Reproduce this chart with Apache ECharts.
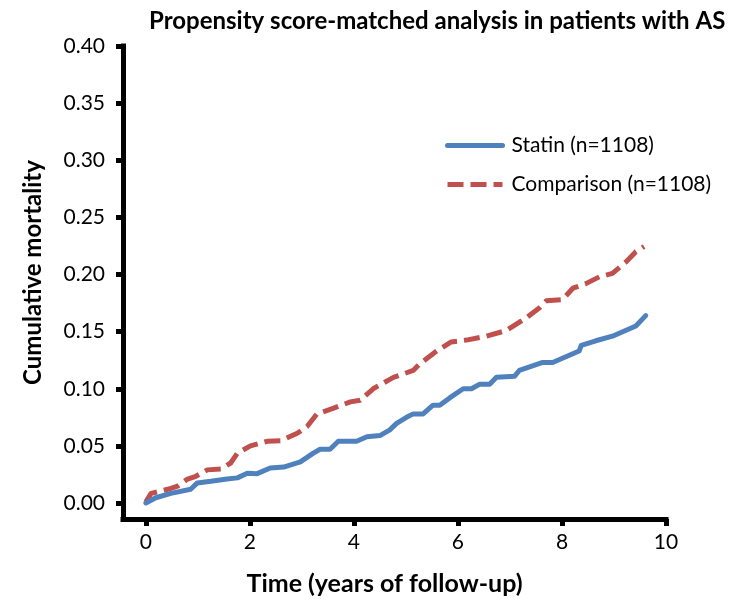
<!DOCTYPE html>
<html>
<head>
<meta charset="utf-8">
<script src="https://cdn.jsdelivr.net/npm/echarts@6/dist/echarts.min.js"></script>
<style>html,body{margin:0;padding:0;background:#fff;}#c{width:744px;height:601px;}</style>
</head>
<body>
<div id="c"></div>
<script>
const titleText = 'Propensity score-matched analysis in patients with AS';
const xName = 'Time (years of follow-up)';
const yName = 'Cumulative mortality';
const xTicks = [0, 2, 4, 6, 8, 10];
const yTicks = [0, 0.05, 0.10, 0.15, 0.20, 0.25, 0.30, 0.35, 0.40];
const statinName = 'Statin (n=1108)';
const compName = 'Comparison (n=1108)';
const statinT = [0,0.19,0.48,0.86,0.99,1.25,1.56,1.76,1.95,2.14,2.39,2.65,2.97,3.22,3.35,3.54,3.70,4.05,4.25,4.50,4.69,4.82,5.01,5.14,5.33,5.52,5.65,5.84,6.10,6.26,6.42,6.61,6.74,7.09,7.18,7.63,7.82,8.33,8.37,8.65,8.97,9.42,9.61];
const statinV = [0,0.0046,0.0084,0.012,0.0176,0.019,0.021,0.022,0.026,0.0257,0.0307,0.0315,0.036,0.0437,0.047,0.047,0.054,0.054,0.058,0.059,0.064,0.0697,0.075,0.078,0.078,0.0856,0.0856,0.092,0.100,0.100,0.104,0.104,0.110,0.111,0.116,0.123,0.123,0.133,0.138,0.142,0.146,0.155,0.164];
const compT = [0,0.10,0.42,0.61,0.80,0.96,1.18,1.44,1.63,1.76,2.01,2.33,2.59,2.91,3.10,3.29,3.61,3.93,4.12,4.37,4.76,5.14,5.27,5.59,5.87,6.16,6.55,6.93,7.31,7.57,7.70,8.01,8.21,8.46,8.72,8.97,9.23,9.42,9.58];
const compV = [0.001,0.0084,0.012,0.0148,0.021,0.0234,0.029,0.0298,0.035,0.0437,0.050,0.054,0.0544,0.061,0.067,0.078,0.083,0.0885,0.090,0.100,0.110,0.116,0.122,0.133,0.141,0.1426,0.146,0.151,0.162,0.171,0.177,0.178,0.188,0.192,0.198,0.201,0.211,0.220,0.2245];

const FONT = 'Lato';
const chart = echarts.init(document.getElementById('c'), null, {renderer: 'canvas'});
const axisLineStyle = {color: '#000', width: 5, cap: 'square'};
chart.setOption({
  animation: false,
  backgroundColor: '#fff',
  title: {
    text: titleText, left: 144, top: 4,
    textStyle: {fontFamily: FONT, fontWeight: 'bold', fontSize: 24, color: '#000'}
  },
  legend: {
    orient: 'vertical', left: 440, top: 130,
    itemWidth: 55, itemHeight: 14, itemGap: 18,
    textStyle: {fontFamily: FONT, fontSize: 21, color: '#000', padding: [0, 0, 0, 4]},
    itemStyle: {color: 'transparent', borderWidth: 0, opacity: 0},
    lineStyle: {width: 5},
    data: [statinName, compName]
  },
  grid: {left: 123, right: 78, top: 46, bottom: 78, containLabel: false},
  xAxis: {
    type: 'value', min: -0.44, max: 10,
    name: xName, nameLocation: 'middle', nameGap: 52,
    nameTextStyle: {fontFamily: FONT, fontWeight: 'bold', fontSize: 25, color: '#000', padding: [0, 20, 0, 0]},
    axisLine: {show: true, onZero: false, lineStyle: axisLineStyle},
    axisTick: {show: true, length: 7, lineStyle: {color: '#000', width: 5}, customValues: xTicks},
    axisLabel: {fontFamily: FONT, fontSize: 21, color: '#000', margin: 13, customValues: xTicks, formatter: v => String(v)},
    splitLine: {show: false}
  },
  yAxis: {
    type: 'value', min: -0.014, max: 0.40,
    name: yName, nameLocation: 'middle', nameGap: 78,
    nameTextStyle: {fontFamily: FONT, fontWeight: 'bold', fontSize: 24, color: '#000', padding: [0, 0, 0, 20]},
    axisLine: {show: true, onZero: false, lineStyle: axisLineStyle},
    axisTick: {show: true, length: 7, lineStyle: {color: '#000', width: 5}, customValues: yTicks},
    axisLabel: {fontFamily: FONT, fontSize: 21, color: '#000', margin: 18, customValues: yTicks, formatter: v => v.toFixed(2)},
    splitLine: {show: false}
  },
  series: [
    {
      name: statinName, type: 'line', symbol: 'none', z: 3,
      data: statinT.map((t, i) => [t, statinV[i]]),
      lineStyle: {color: '#4F81BD', width: 5, join: 'round', cap: 'round'},
      itemStyle: {color: '#4F81BD'}
    },
    {
      name: compName, type: 'line', symbol: 'none', z: 2,
      data: compT.map((t, i) => [t, compV[i]]),
      lineStyle: {color: '#C0504D', width: 5, type: [16, 7], join: 'round'},
      itemStyle: {color: '#C0504D'}
    }
  ]
});
</script>
</body>
</html>
